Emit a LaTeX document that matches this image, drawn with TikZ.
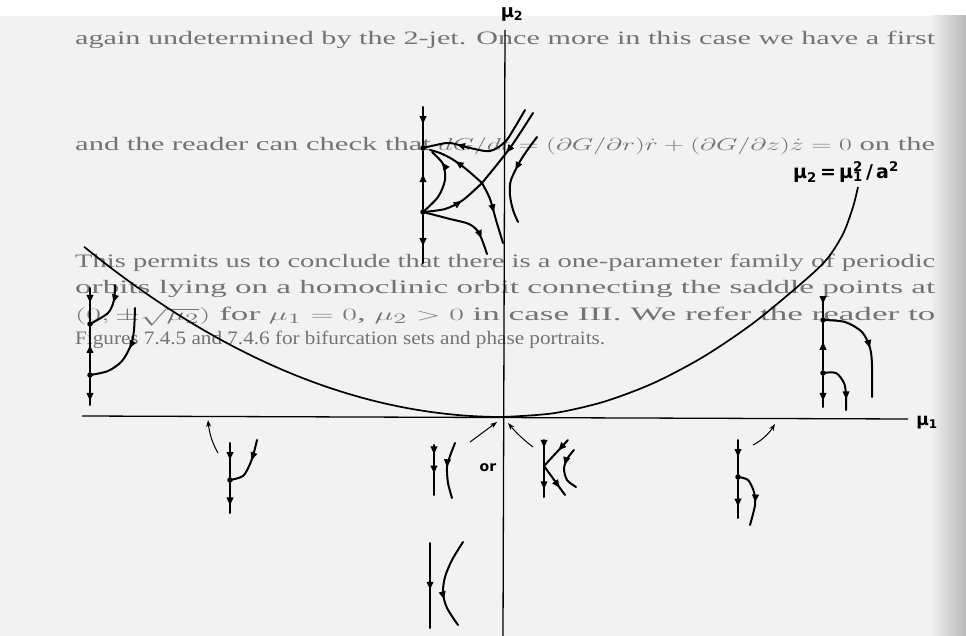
\documentclass[tikz,border=0pt]{standalone}
\usepackage{graphicx}
\usepackage{fontspec}
\setmainfont{Liberation Serif}
\newfontfamily\labfont{DejaVu Sans}
\usetikzlibrary{decorations.markings,arrows.meta}
\definecolor{pagegray}{gray}{0.95}
\definecolor{inkgray}{gray}{0.45}
\tikzset{
  flow/.style={line width=2pt, line cap=round},
  axisline/.style={line width=1.3pt},
  arr/.style={postaction={decorate,decoration={markings,mark=at position #1 with {\arrow{Triangle[length=8pt,width=6.5pt]}}}}},
  pt/.style={circle,fill=black,inner sep=0pt,minimum size=5.5pt},
  pointer/.style={line width=1pt,-{Stealth[length=7pt,width=5pt]}},
  lab/.style={font=\labfont\bfseries\fontsize{18}{21}\selectfont, inner sep=0pt},
  pagetext/.style={text=inkgray, font=\fontsize{19}{22}\selectfont, inner sep=0pt, anchor=base west},
}
\begin{document}
\begin{tikzpicture}[x=1pt,y=-1pt]
\useasboundingbox (0,0) rectangle (966,636);
\fill[white] (0,0) rectangle (966,636);
\fill[pagegray] (0,16) rectangle (966,636);
\shade[left color=pagegray,right color=gray!55] (930,16) rectangle (966,636);

% page text seen behind the figure
\node[pagetext] (t1) at (75,45) {\resizebox{860pt}{\height}{again undetermined by the 2-jet. Once more in this case we have a first}};
\node[pagetext] (t2) at (75,151) {\resizebox{860pt}{\height}{and the reader can check that $dG/dt=(\partial G/\partial r)\dot r+(\partial G/\partial z)\dot z=0$ on the}};
\node[pagetext] (t3) at (75,268) {\resizebox{860pt}{\height}{This permits us to conclude that there is a one-parameter family of periodic}};
\node[pagetext] (t4) at (75,294) {\resizebox{860pt}{\height}{orbits lying on a homoclinic orbit connecting the saddle points at}};
\node[pagetext] (t5) at (75,320) {\resizebox{860pt}{\height}{$(0,\pm\sqrt{\mu_2})$ for $\mu_1=0$, $\mu_2>0$ in case III. We refer the reader to}};
\node[pagetext] (t6) at (75,344) {\resizebox{530pt}{\height}{Figures 7.4.5 and 7.4.6 for bifurcation sets and phase portraits.}};

% axes
\coordinate (m1L) at (82,416);
\coordinate (m1R) at (908,419);
\coordinate (m2T) at (505,30);
\coordinate (m2B) at (503,636);
\draw[axisline] (m1L) -- (m1R);
\draw[axisline] (m2T) -- (m2B);
\node[lab] (mu2) at (512,14) {μ\textsubscript{2}};
\node[lab, font=\labfont\bfseries\fontsize{17}{20}\selectfont] (mu1) at (927,423) {μ\textsubscript{1}};

% parabola mu2 = mu1^2/a^2
\coordinate (vtx) at (503,417);
\draw[line width=1.7pt] plot[domain=84:503, samples=60] (\x,{417-9.7*((\x-503)/100)^2});
\draw[line width=1.7pt] plot[smooth] coordinates {(vtx) (553,413.3) (603,402) (653,383.3) (703,357) (753,323.3) (803,282) (827,259) (843,234) (853,207) (858,187)};
\node[lab, font=\labfont\bfseries\fontsize{19}{22}\selectfont] (plab) at (846,172) {μ\textsubscript{2}\,=\,μ\rlap{\textsuperscript{2}}\textsubscript{1}\,/\,a\textsuperscript{2}};

% ---------- top portrait (mu2>0 near axis) ----------
\node[pt] (tpU) at (423,148) {};
\node[pt] (tpL) at (423,212) {};
\coordinate (tpTop) at (423,107);
\coordinate (tpBot) at (423,263);
\coordinate (tpX) at (482,183);
\draw[flow, arr=0.45] (tpTop) -- (tpU);
\draw[flow, arr=0.6] (tpL) -- (tpU);
\draw[flow, arr=0.65] (tpL) -- (tpBot);
\draw[flow, arr=0.72] plot[smooth] coordinates {(525,110) (515,127) (505,142) (490,151) (470,148) (450,143) (436,145) (tpU)};
\draw[flow, arr=0.6] plot[smooth] coordinates {(tpL) (445,209) (463,200) (tpX)};
\draw[flow, arr=0.55] plot[smooth] coordinates {(533,113) (510,148) (tpX)};
\draw[flow, arr=0.55] plot[smooth] coordinates {(tpX) (466,169) (452,159) (440,153) (430,150)};
\draw[flow, arr=0.5] plot[smooth] coordinates {(tpX) (490,199) (496,220) (503,243)};
\draw[flow, arr=0.8] plot[smooth] coordinates {(tpL) (438,197) (445,180) (443,164) (432,152)};
\draw[flow, arr=0.8] plot[smooth] coordinates {(tpL) (450,219) (469,224) (479,233) (487,254)};
\draw[flow, arr=0.42] plot[smooth] coordinates {(537,137) (522,158) (511,180) (510,195) (513,210) (518,222)};

% ---------- left portrait ----------
\node[pt] (lpU) at (90,324) {};
\node[pt] (lpL) at (90,375) {};
\coordinate (lpTop) at (90,288);
\coordinate (lpBot) at (90,405);
\draw[flow, arr=0.45] (lpTop) -- (lpU);
\draw[flow, arr=0.6] (lpL) -- (lpU);
\draw[flow, arr=0.85] (lpL) -- (lpBot);
\draw[flow, arr=0.35] plot[smooth] coordinates {(115,285) (114,300) (108,313) (lpU)};
\draw[flow, arr=0.45] plot[smooth] coordinates {(135,308) (134,330) (131,345) (122,361) (108,371) (lpL)};

% ---------- right portrait ----------
\node[pt] (rpU) at (823,320) {};
\node[pt] (rpL) at (823,373) {};
\coordinate (rpTop) at (823,297);
\coordinate (rpBot) at (823,407);
\draw[flow, arr=0.35] (rpTop) -- (rpU);
\draw[flow, arr=0.6] (rpL) -- (rpU);
\draw[flow, arr=0.8] (rpL) -- (rpBot);
\draw[flow, arr=0.55] plot[smooth] coordinates {(rpU) (845,322) (862,332) (870,348) (872,365) (872,397)};
\draw[flow, arr=0.8] plot[smooth] coordinates {(rpL) (836,373) (844,383) (846,395) (846,410)};

% ---------- below axis, left ----------
\node[pt] (blD) at (230,480) {};
\coordinate (blTop) at (230,443);
\coordinate (blBot) at (230,513);
\draw[flow, arr=0.5] (blTop) -- (blD);
\draw[flow, arr=0.75] (blD) -- (blBot);
\draw[flow, arr=0.4] plot[smooth] coordinates {(257,440) (254,452) (250,464) (243,476) (blD)};
\draw[pointer] (218,453) .. controls (211,441) and (209,430) .. (208,420);

% ---------- below axis, right ----------
\node[pt] (brD) at (738,477) {};
\coordinate (brTop) at (738,440);
\coordinate (brBot) at (738,518);
\draw[flow, arr=0.5] (brTop) -- (brD);
\draw[flow, arr=0.7] (brD) -- (brBot);
\draw[flow, arr=0.6] plot[smooth] coordinates {(brD) (748,480) (754,492) (755,505) (750,525)};
\draw[pointer] (753,445) .. controls (763,440) and (770,432) .. (775,424);

% ---------- near origin, left (mu2<0 side) ----------
\coordinate (clTop) at (434,445);
\coordinate (clMid) at (434,462);
\coordinate (clBot) at (434,495);
\draw[flow, arr=0.55] (clTop) -- (clMid);
\draw[flow, arr=0.35] (clMid) -- (clBot);
\draw[flow, arr=0.45] plot[smooth] coordinates {(455,443) (450,456) (447,467) (448,483) (452,498)};
\draw[pointer] (470,442) -- (497,422);
\node[lab, font=\labfont\bfseries\fontsize{14}{16}\selectfont] (orlab) at (488,468) {or};

% ---------- near origin, right ----------
\coordinate (crTop) at (544,440);
\coordinate (crJ) at (544,466);
\coordinate (crBot) at (544,497);
\coordinate (crNE) at (568,440);
\coordinate (crSE) at (565,495);
\draw[flow, arr=0.3] (crTop) -- (crJ);
\draw[flow, arr=0.75] (crJ) -- (crBot);
\draw[flow, arr=0.4] (crNE) -- (crJ);
\draw[flow, arr=0.75] (crJ) -- (crSE);
\draw[flow, arr=0.4] plot[smooth] coordinates {(574,450) (567,459) (564,469) (567,480) (576,487)};
\draw[pointer] (533,447) .. controls (521,438) and (513,429) .. (508,423);

% ---------- bottom portrait ----------
\coordinate (bcTop) at (430,543);
\coordinate (bcBot) at (430,628);
\draw[flow, arr=0.55] (bcTop) -- (bcBot);
\draw[flow, arr=0.68] plot[smooth] coordinates {(463,542) (452,560) (445,577) (443,593) (447,608) (458,625)};
\end{tikzpicture}
\end{document}
